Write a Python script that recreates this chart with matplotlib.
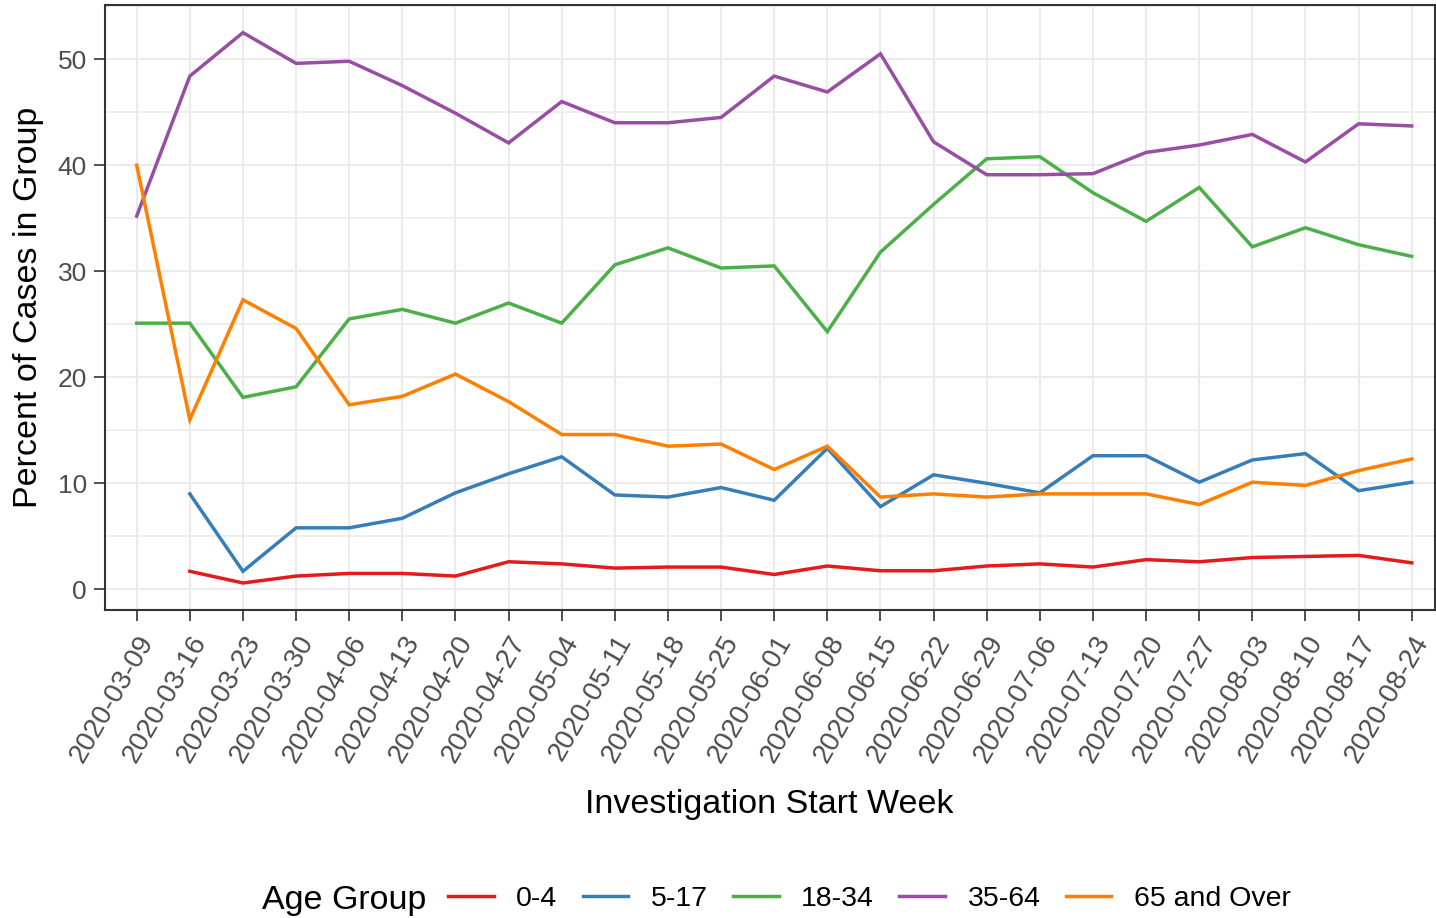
import matplotlib
matplotlib.use("Agg")
import matplotlib.pyplot as plt
from matplotlib.ticker import MultipleLocator

plt.rcParams['font.family'] = ['Liberation Sans', 'DejaVu Sans']

weeks = ['2020-03-09', '2020-03-16', '2020-03-23', '2020-03-30', '2020-04-06',
         '2020-04-13', '2020-04-20', '2020-04-27', '2020-05-04', '2020-05-11',
         '2020-05-18', '2020-05-25', '2020-06-01', '2020-06-08', '2020-06-15',
         '2020-06-22', '2020-06-29', '2020-07-06', '2020-07-13', '2020-07-20',
         '2020-07-27', '2020-08-03', '2020-08-10', '2020-08-17', '2020-08-24']

# None = no cases reported that week
age_0_4 = [None, 1.7, 0.6, 1.25, 1.5, 1.5, 1.25, 2.6, 2.4, 2.0, 2.1, 2.1, 1.4,
           2.2, 1.75, 1.75, 2.2, 2.4, 2.1, 2.8, 2.6, 3.0, 3.1, 3.2, 2.5]
age_5_17 = [None, 9.0, 1.7, 5.8, 5.8, 6.7, 9.1, 10.9, 12.5, 8.9, 8.7, 9.6, 8.4,
            13.3, 7.8, 10.8, 10.0, 9.1, 12.6, 12.6, 10.1, 12.2, 12.8, 9.3, 10.1]
age_18_34 = [25.1, 25.1, 18.1, 19.1, 25.5, 26.4, 25.1, 27.0, 25.1, 30.6, 32.2,
             30.3, 30.5, 24.3, 31.8, 36.3, 40.6, 40.8, 37.4, 34.7, 37.9, 32.3,
             34.1, 32.5, 31.4]
age_35_64 = [35.2, 48.4, 52.5, 49.6, 49.8, 47.5, 44.9, 42.1, 46.0, 44.0, 44.0,
             44.5, 48.4, 46.9, 50.5, 42.2, 39.1, 39.1, 39.2, 41.2, 41.9, 42.9,
             40.3, 43.9, 43.7]
age_65_over = [40.0, 16.0, 27.3, 24.6, 17.4, 18.2, 20.3, 17.7, 14.6, 14.6, 13.5,
               13.7, 11.3, 13.5, 8.7, 9.0, 8.7, 9.0, 9.0, 9.0, 8.0, 10.1, 9.8,
               11.2, 12.3]

groups = ['0-4', '5-17', '18-34', '35-64', '65 and Over']
series = [age_0_4, age_5_17, age_18_34, age_35_64, age_65_over]
colors = ['#E41A1C', '#377EB8', '#4DAF4A', '#984EA3', '#FF7F00']

fig = plt.figure(figsize=(14.36, 9.18), dpi=100)
ax = fig.add_axes([0.073, 0.3355, 0.926, 0.659])

x = list(range(len(weeks)))
for name, vals, col in zip(groups, series, colors):
    xs = [i for i, v in zip(x, vals) if v is not None]
    ys = [v for v in vals if v is not None]
    ax.plot(xs, ys, color=col, linewidth=2.5, label=name, solid_joinstyle='miter')

ax.set_xlim(-0.6, 24.43)
ax.set_ylim(-1.95, 55.1)
ax.set_xticks(x)
ax.set_xticklabels(weeks, rotation=60, ha='right', va='top', rotation_mode='anchor')
ax.yaxis.set_major_locator(MultipleLocator(10))
ax.yaxis.set_minor_locator(MultipleLocator(5))
ax.tick_params(axis='both', which='major', labelsize=19, labelcolor='#4D4D4D',
               color='#333333', length=8, width=1.2)
ax.tick_params(axis='x', labelsize=20, pad=7)
ax.tick_params(axis='y', which='minor', length=0)
ax.tick_params(axis='y', pad=5)

ax.grid(True, which='major', color='#EBEBEB', linewidth=1.5)
ax.grid(True, which='minor', axis='y', color='#EBEBEB', linewidth=1.2)
ax.set_axisbelow(True)
for s in ax.spines.values():
    s.set_color('#333333')
    s.set_linewidth(1.5)

ax.set_xlabel('Investigation Start Week', fontsize=24.5, labelpad=16)
ax.set_ylabel('Percent of Cases in Group', fontsize=24.5, labelpad=10)

fig.text(262 / 1436, 1 - 900 / 918, 'Age Group', fontsize=24.5, ha='left', va='center')
fig.legend(loc='center left', bbox_to_anchor=(448 / 1436, 1 - 899 / 918), ncol=5,
           frameon=False, fontsize=20.5, handlelength=1.6, handletextpad=0.8,
           columnspacing=0.88, borderpad=0, borderaxespad=0)

fig.savefig('out.png', dpi=100)
